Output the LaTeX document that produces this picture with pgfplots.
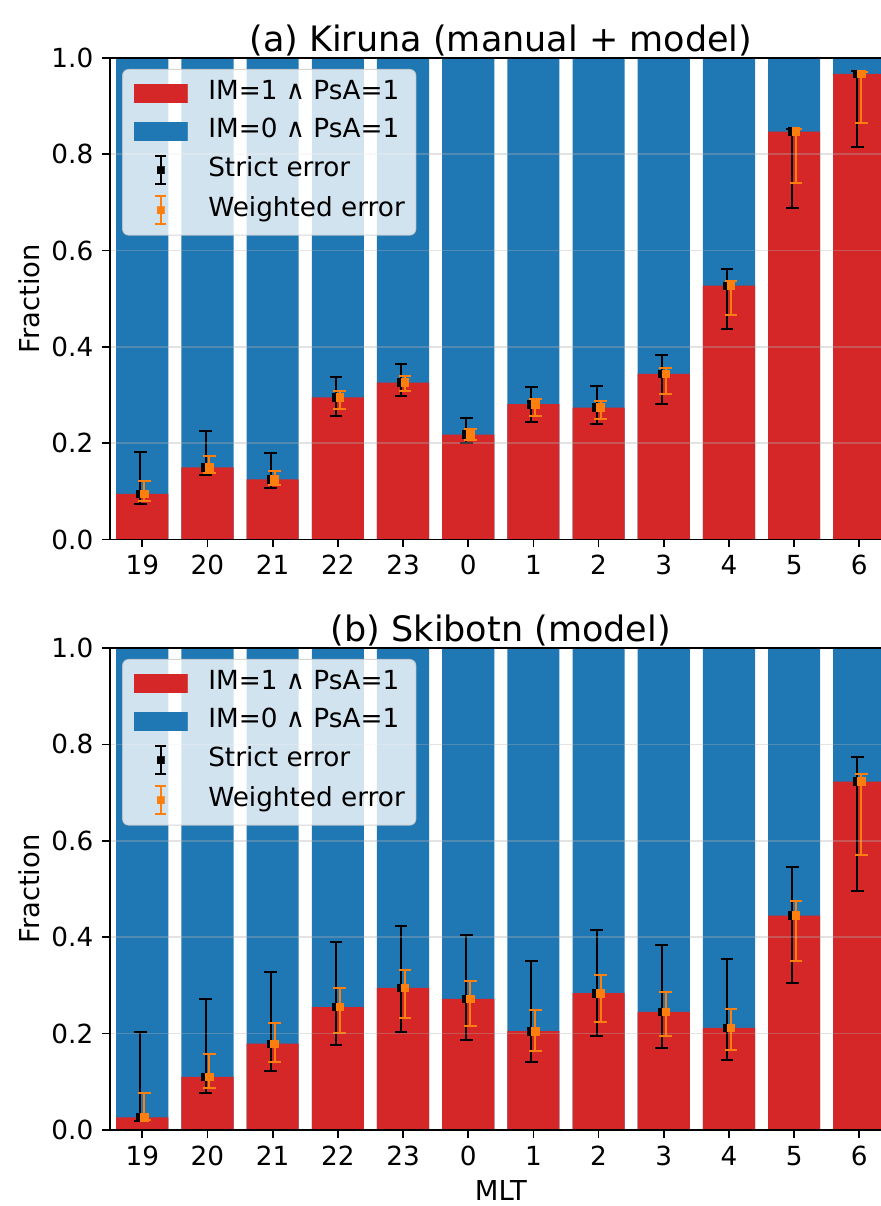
\documentclass[border=0pt]{standalone}
\usepackage{fontspec}
\setmainfont{DejaVu Sans}
\usepackage{pgfplots}
\usepackage{pgfplotstable}
\pgfplotsset{compat=1.18}
\definecolor{mplred}{HTML}{D62728}
\definecolor{mplblue}{HTML}{1F77B4}
\definecolor{mplorange}{HTML}{FF7F0E}

% x: category index (0=19 MLT ... 11=6 MLT), v: fraction IM=1, tot: full bar,
% slo/shi: strict error range, wlo/whi: weighted error range
\pgfplotstableread{
x  v     tot  slo    shi    wlo    whi
0  0.095 1.0  0.073  0.182  0.080  0.121
1  0.150 1.0  0.134  0.226  0.139  0.173
2  0.125 1.0  0.107  0.179  0.113  0.142
3  0.295 1.0  0.257  0.337  0.270  0.308
4  0.326 1.0  0.298  0.364  0.308  0.340
5  0.218 1.0  0.201  0.252  0.207  0.229
6  0.281 1.0  0.245  0.316  0.257  0.291
7  0.274 1.0  0.240  0.318  0.251  0.288
8  0.344 1.0  0.282  0.383  0.302  0.356
9  0.527 1.0  0.438  0.561  0.467  0.537
10 0.847 1.0  0.689  0.853  0.741  0.852
11 0.967 1.0  0.816  0.972  0.866  0.970
}\dataA

\pgfplotstableread{
x  v     tot  slo    shi    wlo    whi
0  0.026 1.0  0.019  0.203  0.021  0.077
1  0.110 1.0  0.076  0.272  0.088  0.157
2  0.179 1.0  0.123  0.327  0.141  0.221
3  0.255 1.0  0.176  0.391  0.202  0.295
4  0.295 1.0  0.203  0.423  0.233  0.332
5  0.272 1.0  0.187  0.405  0.215  0.310
6  0.205 1.0  0.142  0.350  0.163  0.248
7  0.284 1.0  0.196  0.414  0.225  0.322
8  0.245 1.0  0.170  0.383  0.195  0.286
9  0.212 1.0  0.146  0.354  0.167  0.252
10 0.445 1.0  0.306  0.546  0.351  0.475
11 0.723 1.0  0.496  0.774  0.571  0.739
}\dataB

\pgfplotsset{
  panel/.style={
    scale only axis, width=391.1pt,
    xmin=-0.5, xmax=11.5, ymin=0, ymax=1,
    xtick={0,...,11}, xticklabels={19,20,21,22,23,0,1,2,3,4,5,6},
    ytick={0,0.2,0.4,0.6,0.8,1}, yticklabels={0.0,0.2,0.4,0.6,0.8,1.0},
    tick align=outside, major tick length=4pt,
    xtick pos=left, ytick pos=left,
    tick style={black, line width=0.85pt},
    axis line style={line width=0.85pt},
    ymajorgrids, major grid style={draw=gray!62, line width=0.85pt, opacity=0.35},
    axis on top,
    tick label style={font=\fontsize{13.15pt}{15pt}\selectfont, inner sep=0pt},
    yticklabel style={anchor=east, xshift=-4pt},
    xticklabel style={anchor=north, yshift=-3.75pt},
    title style={at={(0.5,1)}, anchor=base, yshift=-3pt, font=\fontsize{17.5pt}{20pt}\selectfont},
    ylabel style={at={(axis description cs:-0.1023,0.5)}, anchor=center, font=\fontsize{13.7pt}{16pt}\selectfont},
    xlabel style={at={(axis description cs:0.5,0)}, anchor=center, inner sep=0pt, yshift=-30.5pt, font=\fontsize{13.7pt}{16pt}\selectfont},
    legend cell align=left,
    legend style={at={(axis description cs:0,1)}, anchor=north west, xshift=6.2pt, yshift=-5.5pt,
      fill=white, fill opacity=0.8, text opacity=1, draw=gray!40, draw opacity=0.8, line width=0.5pt,
      rounded corners=3pt, inner xsep=5.5pt, inner ysep=5pt, row sep=5pt, column sep=10.35pt,
      font=\fontsize{13.15pt}{15pt}\selectfont,
      nodes={inner sep=0pt, text height=10pt, text depth=4pt}},
  },
  barblue/.style={ybar, bar width=0.8, bar shift=0pt, fill=mplblue, draw=none, forget plot},
  barred/.style={ybar, bar width=0.8, bar shift=0pt, fill=mplred, draw=none, forget plot},
  strict/.style={black, only marks, mark=square*, mark size=1.9pt, forget plot,
    error bars/.cd, y dir=both, y explicit,
    error bar style={line width=1pt, black},
    error mark options={rotate=90, mark size=3.17pt, line width=1pt, black}},
  weighted/.style={mplorange, only marks, mark=square*, mark size=1.9pt, forget plot,
    error bars/.cd, y dir=both, y explicit,
    error bar style={line width=1pt, mplorange},
    error mark options={rotate=90, mark size=3.17pt, line width=1pt, mplorange}},
  patchred/.style={legend image code/.code={\fill[mplred, fill opacity=1, sharp corners] (0pt,-4.6pt) rectangle (26.5pt,4.6pt);}},
  patchblue/.style={legend image code/.code={\fill[mplblue, fill opacity=1, sharp corners] (0pt,-4.6pt) rectangle (26.5pt,4.6pt);}},
  errimg/.style={legend image code/.code={
    \draw[#1, draw opacity=1, line width=0.9pt, sharp corners] (13.25pt,-7pt) -- (13.25pt,7pt) (10.5pt,-7pt) -- (16pt,-7pt) (10.5pt,7pt) -- (16pt,7pt);
    \fill[#1, fill opacity=1, sharp corners] (11.5pt,-1.75pt) rectangle (15pt,1.75pt);}},
}

\begin{document}
\begin{tikzpicture}
\useasboundingbox (0pt,0pt) rectangle (440.5pt,603pt);

\begin{axis}[panel, height=240.75pt, at={(54.85pt,333.25pt)}, anchor=south west,
  title={(a) Kiruna (manual + model)}, ylabel={Fraction}]
  \addplot[barblue] table[x=x, y=tot]{\dataA};
  \addplot[barred] table[x=x, y=v]{\dataA};
  \addplot[strict] table[x expr=\thisrow{x}-0.03, y=v,
    y error plus expr=\thisrow{shi}-\thisrow{v}, y error minus expr=\thisrow{v}-\thisrow{slo}]{\dataA};
  \addplot[weighted] table[x expr=\thisrow{x}+0.03, y=v,
    y error plus expr=\thisrow{whi}-\thisrow{v}, y error minus expr=\thisrow{v}-\thisrow{wlo}]{\dataA};
  \addlegendimage{patchred}\addlegendentry{IM=1 ∧ PsA=1}
  \addlegendimage{patchblue}\addlegendentry{IM=0 ∧ PsA=1}
  \addlegendimage{errimg=black}\addlegendentry{Strict error}
  \addlegendimage{errimg=mplorange}\addlegendentry{Weighted error}
\end{axis}

\begin{axis}[panel, height=241pt, at={(54.85pt,38pt)}, anchor=south west,
  title={(b) Skibotn (model)}, ylabel={Fraction}, xlabel={MLT}]
  \addplot[barblue] table[x=x, y=tot]{\dataB};
  \addplot[barred] table[x=x, y=v]{\dataB};
  \addplot[strict] table[x expr=\thisrow{x}-0.03, y=v,
    y error plus expr=\thisrow{shi}-\thisrow{v}, y error minus expr=\thisrow{v}-\thisrow{slo}]{\dataB};
  \addplot[weighted] table[x expr=\thisrow{x}+0.03, y=v,
    y error plus expr=\thisrow{whi}-\thisrow{v}, y error minus expr=\thisrow{v}-\thisrow{wlo}]{\dataB};
  \addlegendimage{patchred}\addlegendentry{IM=1 ∧ PsA=1}
  \addlegendimage{patchblue}\addlegendentry{IM=0 ∧ PsA=1}
  \addlegendimage{errimg=black}\addlegendentry{Strict error}
  \addlegendimage{errimg=mplorange}\addlegendentry{Weighted error}
\end{axis}
\end{tikzpicture}
\end{document}
